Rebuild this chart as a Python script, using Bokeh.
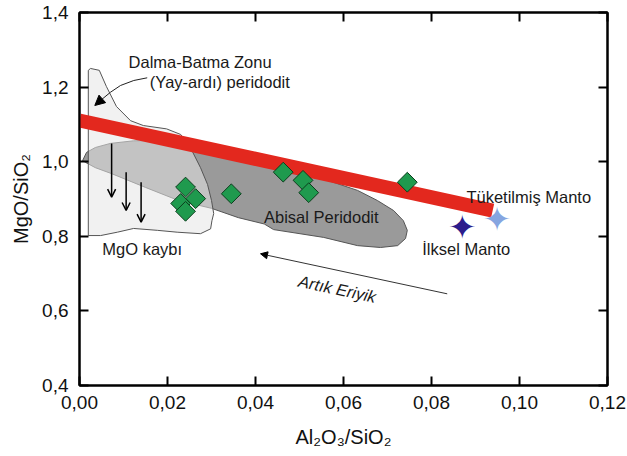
import numpy as np
from bokeh.plotting import figure
from bokeh.models import LinearAxis, FixedTicker, Arrow, NormalHead, OpenHead, Range1d
from bokeh.core.properties import value
from bokeh.embed import file_html
from bokeh.resources import INLINE

# ---- axis ticks ----
x_ticks = [0.0, 0.02, 0.04, 0.06, 0.08, 0.10, 0.12]
x_tick_labels = ["0,00", "0,02", "0,04", "0,06", "0,08", "0,10", "0,12"]
y_ticks = [0.4, 0.6, 0.8, 1.0, 1.2, 1.4]
y_tick_labels = ["0,4", "0,6", "0,8", "1,0", "1,2", "1,4"]

# ---- samples (green diamonds) ----
sample_al = [0.0241, 0.0264, 0.0230, 0.0241, 0.0345, 0.0463, 0.0508, 0.0521, 0.0745]
sample_mg = [0.932, 0.901, 0.888, 0.867, 0.914, 0.972, 0.950, 0.917, 0.945]

# ---- mantle reference points ----
primitive_al = [0.0870]
primitive_mg = [0.824]
depleted_al = [0.0949]
depleted_mg = [0.847]

# ---- terrestrial array (red band) ----
trend_al = [0.0, 0.0939]
trend_mg = [1.1105, 0.869]

# ---- fields ----
forearc_al = [0.0020, 0.0020, 0.0025, 0.0045, 0.0061, 0.0084, 0.0116, 0.0145, 0.0198,
              0.0230, 0.0252, 0.0275, 0.0291, 0.0300, 0.0305, 0.0301, 0.0298, 0.0275,
              0.0222, 0.0177, 0.0123, 0.0086, 0.0048]
forearc_mg = [0.802, 1.245, 1.250, 1.245, 1.202, 1.148, 1.110, 1.097, 1.088,
              1.073, 1.038, 0.984, 0.939, 0.896, 0.861, 0.842, 0.820, 0.807,
              0.811, 0.816, 0.821, 0.811, 0.802]

abyssal_al = [0.0007, 0.0016, 0.0036, 0.0070, 0.0123, 0.0200, 0.0248, 0.0300, 0.0345,
              0.0400, 0.0452, 0.0525, 0.0564, 0.0632, 0.0677, 0.0714, 0.0736, 0.0745,
              0.0741, 0.0723, 0.0684, 0.0632, 0.0555, 0.0441, 0.0420, 0.0361, 0.0300,
              0.0225, 0.0150, 0.0073, 0.0036, 0.0014]
abyssal_mg = [1.003, 1.025, 1.038, 1.049, 1.056, 1.057, 1.049, 1.030, 1.014,
              0.998, 0.990, 0.968, 0.950, 0.923, 0.896, 0.869, 0.842, 0.816,
              0.794, 0.775, 0.770, 0.775, 0.797, 0.818, 0.833, 0.850, 0.875,
              0.896, 0.931, 0.968, 0.984, 0.998]

# ---- annotation texts ----
label_texts = ["Dalma-Batma Zonu", "(Yay-ardı) peridodit", "MgO kaybı",
               "Abisal Peridodit", "Tüketilmiş Manto", "İlksel Manto"]
label_al = [0.0274, 0.0319, 0.01425, 0.05495, 0.1021, 0.0879]
label_mg = [1.267, 1.213, 0.7665, 0.853, 0.905, 0.7665]

melt_text = ["Artık Eriyik"]
melt_al = [0.0586]
melt_mg = [0.659]

# MgO-loss arrows
loss_al = [0.0073, 0.0106, 0.0140]
loss_top = [1.0488, 0.9718, 0.945]
loss_tip = [0.9048, 0.8692, 0.8378]

# curved pointer to forearc field
curve_al = [0.01539, 0.01234, 0.00932, 0.00705, 0.00477, 0.00348]
curve_mg = [1.2249, 1.2177, 1.2043, 1.1863, 1.1641, 1.1507]

# residual melt arrow
melt_arrow_al = [0.08357, 0.04114]
melt_arrow_mg = [0.6458, 0.7531]

FONT = "Liberation Sans"

p = figure(width=627, height=456, x_range=Range1d(0, 0.12), y_range=Range1d(0.4, 1.4),
           output_backend="svg", toolbar_location=None,
           min_border_left=79, min_border_right=20, min_border_top=12, min_border_bottom=71)
p.xgrid.visible = False
p.ygrid.visible = False
p.outline_line_color = "black"
p.outline_line_width = 2
p.background_fill_color = "white"

bottom_axis = p.below[0]
left_axis = p.left[0]
top_axis = LinearAxis()
right_axis = LinearAxis()
p.add_layout(top_axis, "above")
p.add_layout(right_axis, "right")

for ax, ticks, labels in [(bottom_axis, x_ticks, x_tick_labels), (top_axis, x_ticks, x_tick_labels),
                          (left_axis, y_ticks, y_tick_labels), (right_axis, y_ticks, y_tick_labels)]:
    ax.ticker = FixedTicker(ticks=ticks)
    ax.major_label_overrides = {t: l for t, l in zip(ticks, labels)}
    ax.axis_line_width = 2
    ax.axis_line_color = "black"
    ax.major_tick_line_width = 2
    ax.major_tick_line_color = "black"
    ax.major_tick_in = 9
    ax.major_tick_out = 0
    ax.minor_tick_line_color = None
    ax.major_label_text_font = FONT
    ax.major_label_text_font_size = "19px"
    ax.major_label_text_color = "#111111"

for ax in (top_axis, right_axis):
    ax.major_label_text_font_size = "0px"
    ax.major_label_text_color = None
    ax.major_label_standoff = 0

left_axis.major_label_standoff = 11
bottom_axis.major_label_standoff = 10

bottom_axis.axis_label = "Al₂O₃/SiO₂"
left_axis.axis_label = "MgO/SiO₂"
for ax in (bottom_axis, left_axis):
    ax.axis_label_text_font = FONT
    ax.axis_label_text_font_size = "20px"
    ax.axis_label_text_font_style = "normal"
    ax.axis_label_text_color = "#111111"
bottom_axis.axis_label_standoff = 14
left_axis.axis_label_standoff = 7

# fields
p.patch(abyssal_al, abyssal_mg, fill_color="#9a9a9a", line_color="#555555", line_width=1)
p.patch(forearc_al, forearc_mg, fill_color="#e6e6e6", fill_alpha=0.55,
        line_color="#555555", line_width=1)

# MgO loss arrows
for xa, yt, yb in zip(loss_al, loss_top, loss_tip):
    p.add_layout(Arrow(end=OpenHead(size=8, line_width=1.5, line_color="black"),
                       x_start=xa, y_start=yt, x_end=xa, y_end=yb,
                       line_width=1.5, line_color="black"))

# curved pointer
p.line(curve_al[:-1], curve_mg[:-1], line_color="#222222", line_width=1)
p.add_layout(Arrow(end=NormalHead(size=10, fill_color="black", line_color="black"),
                   x_start=curve_al[-2], y_start=curve_mg[-2],
                   x_end=curve_al[-1], y_end=curve_mg[-1],
                   line_width=1, line_color="#222222"))

# residual melt arrow
p.add_layout(Arrow(end=NormalHead(size=7, fill_color="black", line_color="black"),
                   x_start=melt_arrow_al[0], y_start=melt_arrow_mg[0],
                   x_end=melt_arrow_al[1], y_end=melt_arrow_mg[1],
                   line_width=1, line_color="#333333"))

# red band
p.line(trend_al, trend_mg, line_width=14, line_color="#e3281e", line_cap="butt")

# stars
p.text(x=primitive_al, y=primitive_mg, text=["✦"], text_color="#2c1d8c",
       text_font=value("DejaVu Sans"), text_font_size="34px",
       text_align="center", text_baseline="middle")
p.text(x=depleted_al, y=depleted_mg, text=["✦"], text_color="#86a5e0",
       text_font=value("DejaVu Sans"), text_font_size="34px",
       text_align="center", text_baseline="middle")

# samples
p.scatter(sample_al, sample_mg, marker="square", angle=np.pi / 4, size=14,
          fill_color="#1f9a4e", line_color="#0b3d1c", line_width=1)

# labels
p.text(x=label_al, y=label_mg, text=label_texts, text_font=value(FONT),
       text_font_size="16.5px", text_color="#1a1a1a",
       text_align="center", text_baseline="middle")
p.text(x=melt_al, y=melt_mg, text=melt_text, text_font=value(FONT),
       text_font_size="16.5px", text_font_style="italic", text_color="#1a1a1a",
       text_align="center", text_baseline="middle", angle=-0.211)

with open("out.html", "w", encoding="utf-8") as f:
    f.write(file_html(p, INLINE))
